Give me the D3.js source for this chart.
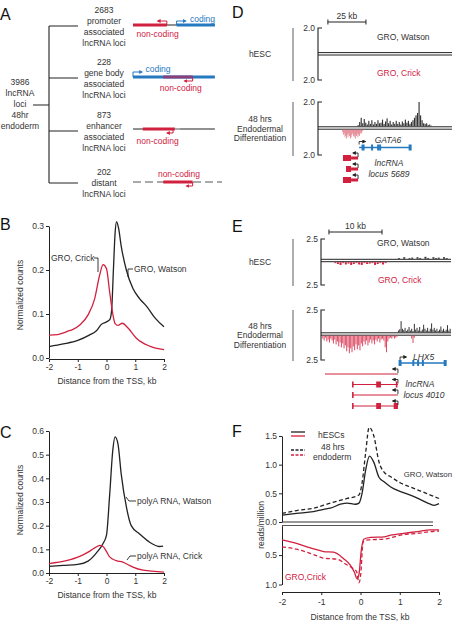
<!DOCTYPE html>
<html>
<head>
<meta charset="utf-8">
<script src="https://cdn.jsdelivr.net/npm/d3@7"></script>
<style>
  body { margin: 0; background: #fff; }
  svg text { font-family: "Liberation Sans", Arial, sans-serif; fill: #333; }
</style>
</head>
<body>
<script>
// ---------- data ----------
// Panel A
const aTotal = ["3986", "lncRNA", "loci", "48hr", "endoderm"];
const aCounts = ["2683", "228", "873", "202"];
const aTypes = [
  ["promoter", "associated", "lncRNA loci"],
  ["gene body", "associated", "lncRNA loci"],
  ["enhancer", "associated", "lncRNA loci"],
  ["distant", "lncRNA loci"]
];

// Panel B, GRO-seq around TSS [kb, normalized counts]
const bWatson = [[-2,0.026],[-1.5,0.032],[-1,0.04],[-0.6,0.052],[-0.35,0.062],[-0.17,0.077],[0,0.082],[0.12,0.088],
  [0.18,0.11],[0.24,0.2],[0.3,0.285],[0.35,0.31],[0.42,0.295],[0.51,0.255],[0.69,0.2],[0.92,0.158],[1.15,0.135],
  [1.39,0.118],[1.7,0.09],[2,0.071]];
const bCrick = [[-2,0.052],[-1.7,0.053],[-1.5,0.057],[-1.3,0.062],[-1.2,0.064],[-0.93,0.075],[-0.64,0.098],
  [-0.41,0.135],[-0.24,0.188],[-0.12,0.212],[0,0.203],[0.11,0.15],[0.22,0.1],[0.3,0.078],[0.4,0.074],[0.55,0.079],
  [0.75,0.068],[1.04,0.045],[1.5,0.027],[2,0.019]];

// Panel C, polyA RNA
const cWatson = [[-2,0.028],[-1.5,0.032],[-1,0.036],[-0.64,0.05],[-0.35,0.085],[-0.12,0.125],[0,0.16],[0.11,0.33],
  [0.22,0.52],[0.3,0.575],[0.4,0.545],[0.51,0.42],[0.69,0.28],[0.86,0.2],[1.15,0.165],[1.5,0.13],[1.85,0.112],[1.97,0.114]];
const cCrick = [[-2,0.04],[-1.4,0.052],[-0.93,0.07],[-0.64,0.088],[-0.41,0.106],[-0.23,0.117],[-0.12,0.112],[0,0.09],
  [0.11,0.068],[0.34,0.052],[0.57,0.046],[0.75,0.035],[0.92,0.025],[1.27,0.012],[2,0.004]];

// Panel D, GATA6 locus tracks (kb start, bin size, values)
const dWatson48 = { start: 26, step: 1, values: [0.1,0.35,0.7,0.25,0.6,0.3,0.15,0.45,0.2,0.5,0.15,0.35,0.2,0.5,0.25,
  0.3,0.55,0.2,0.4,0.65,0.25,0.45,0.15,0.35,0.2,0.45,0.2,0.35,0.15,0.4,0.25,0.55,0.3,0.45,0.2,0.35,0.5,0.7,0.9,1.1,
  2.0,0.9,0.5,0.25,0.2,0.25,0.1,0.15,0.05] };
const dCrick48 = { start: 16, step: 0.5, values: [0.2,0.4,0.3,0.6,0.5,0.7,0.4,0.6,0.3,0.5,0.7,0.6,0.4,0.3,0.5,0.6,
  0.4,0.7,0.5,0.3,0.6,0.4,0.5,0.3,0.2,0.3,0.1] };
const gata6 = { from: 27, to: 60.5, exons: [29.6, 35.5, 39.5, 40.8, 60.5] };
const locus5689 = [[16.4, 21.7, 26.3], [18.4, 21.7, 26.3], [16.4, 21.7, 26.3]];

// Panel E, LHX5 locus tracks
const eWatsonES = { start: 14.5, step: 0.5, values: [0.1,0,0.2,0,0.1,0.15,0,0.2,0.1,0,0.25,0.1,0,0.2,0.1,0.15,0,0.2,0.1,0] };
const eCrickES = { start: 2.5, step: 0.5, values: [0.1,0.2,0.3,0.1,0.25,0.15,0.3,0.2,0.1,0.25,0.3,0.1,0.2,0.15,0.1,0.3,0.2,0.1,0.25,0.1] };
const eWatson48 = { start: 14.5, step: 0.25, values: [0.2,0.35,1.25,0.4,0.25,0.5,0.15,0.3,0.6,0.2,0.4,0.15,0.95,0.3,
  0.5,0.2,0.6,0.15,0.3,0.85,0.4,0.2,0.5,0.15,0.4,1.0,0.3,0.5,0.2,0.4,0.15,0.3,0.65,0.2,0.4,0.15,0.3,0.8,0.2,0.4] };
const eCrick48 = { start: 0.25, step: 0.25, values: [0.3,0.5,0.2,0.6,0.4,0.7,0.3,0.5,0.8,0.4,0.9,0.6,1.1,0.7,1.2,0.8,1.3,
  1.0,1.6,1.2,1.8,1.3,1.7,1.1,1.5,0.9,1.4,1.0,1.5,0.8,1.1,0.6,0.9,0.5,1.0,0.7,0.4,0.8,0.5,0.9,0.4,0.6,0.3,0.7,0.4,0.3,
  0.5,1.2,1.7,0.6,0.3,0.2,0.3,0.1,0.3,0.2,0.1] };
const eCrick48b = { start: 17, step: 0.25, values: [0.3, 0.75, 0.2] };
const lhx5 = { from: 14.9, to: 23.4, exons: [14.9, 17.4, 18.3, 19.2, 23.4] };
// transcripts: [from, to, exon blocks [start, end]]
const locus4010 = [
  [0.75, 14.5, []],
  [6.0, 14.5, [[5.85, 6.15], [10.4, 11.3], [14.1, 14.4]]],
  [6.0, 14.5, [[5.85, 6.15]]],
  [6.0, 14.5, [[5.85, 6.15], [10.4, 11.3], [13.7, 14.5]]]
];

// Panel F, GRO-seq reads/million
const fWatsonES = [[-2,0.12],[-1.63,0.15],[-1.2,0.18],[-0.94,0.22],[-0.77,0.24],[-0.51,0.31],[-0.34,0.33],[-0.13,0.31],
  [-0.04,0.33],[0.04,0.5],[0.13,0.9],[0.23,1.15],[0.34,1.04],[0.47,0.78],[0.6,0.7],[0.77,0.61],[1.02,0.53],[1.27,0.47],
  [1.53,0.39],[1.78,0.31],[1.87,0.29],[2,0.32]];
const fWatson48 = [[-2,0.15],[-1.63,0.2],[-1.2,0.24],[-0.77,0.33],[-0.34,0.41],[-0.04,0.47],[0.04,0.68],[0.13,1.2],
  [0.22,1.65],[0.34,1.5],[0.47,1.05],[0.6,0.87],[0.77,0.79],[1.02,0.68],[1.27,0.61],[1.53,0.54],[1.78,0.47],[2,0.41]];
const fCrickES = [[-2,0.24],[-1.63,0.3],[-1.37,0.36],[-1.1,0.41],[-0.94,0.44],[-0.69,0.45],[-0.43,0.56],[-0.26,0.67],
  [-0.15,0.8],[-0.09,0.9],[-0.04,0.83],[0.02,0.42],[0.08,0.23],[0.26,0.2],[0.6,0.19],[0.77,0.16],[1.1,0.13],[1.45,0.1],
  [1.78,0.07],[2,0.07]];
const fCrick48 = [[-2,0.36],[-1.63,0.4],[-1.2,0.49],[-0.95,0.55],[-0.6,0.57],[-0.36,0.66],[-0.19,0.73],[-0.1,0.78],
  [-0.04,0.97],[0.01,0.8],[0.06,0.3],[0.1,0.25],[0.23,0.24],[0.58,0.23],[1.1,0.15],[1.45,0.13],[1.78,0.1],[2,0.09]];

const tssTicks = [-2, -1, 0, 1, 2];

// ---------- setup ----------
const red = "#d1213f", blue = "#2479bf", ink = "#222";
const FS = 8.5;

const svg = d3.select("body").append("svg")
  .attr("width", 455).attr("height", 625)
  .style("background", "#fff");

const defs = svg.append("defs");
[["k", ink], ["r", red], ["b", blue]].forEach(([id, c]) => {
  defs.append("marker").attr("id", "ah-" + id)
    .attr("viewBox", "0 0 10 10").attr("refX", 7).attr("refY", 5)
    .attr("markerWidth", 4).attr("markerHeight", 4)
    .attr("markerUnits", "userSpaceOnUse").attr("orient", "auto")
    .append("path").attr("d", "M0,0L10,5L0,10z").attr("fill", c);
});

function txt(x, y, s, opts = {}) {
  return svg.append("text").attr("x", x).attr("y", y)
    .attr("font-size", opts.size || FS)
    .attr("text-anchor", opts.anchor || "start")
    .attr("font-style", opts.italic ? "italic" : null)
    .style("fill", opts.fill || "#333")
    .text(s);
}

function styleAxis(g) {
  g.attr("font-family", null).attr("font-size", null);
  g.selectAll("text").attr("font-size", FS).style("fill", "#333");
  g.selectAll("path, line").attr("stroke", ink);
}

// panel letters
[["A", 0, 20], ["B", 0, 230], ["C", 0, 438], ["D", 232, 18], ["E", 232, 232], ["F", 232, 437]]
  .forEach(([l, x, y]) => txt(x, y, l, { size: 16, fill: "#111" }));

// ---------- Panel A ----------
const aRowY = [26, 78, 131, 183];
svg.append("path")
  .attr("d", `M33,105H49M49,${aRowY[0]}V${aRowY[3]}` + aRowY.map(y => `M49,${y}H78`).join(""))
  .attr("stroke", ink).attr("fill", "none").attr("stroke-width", 1.1);

aTotal.forEach((s, i) => txt(20, 85 + i * 11, s, { anchor: "middle" }));
aRowY.forEach((y, r) => {
  const lines = [aCounts[r]].concat(aTypes[r]);
  const y0 = y - (lines.length - 1) * 11 / 2 + 3;
  lines.forEach((s, i) => txt(104, y0 + i * 11, s, { anchor: "middle" }));
});

// schematic gene diagrams, drawn in 0-100 units
const ax = d3.scaleLinear().domain([0, 100]).range([133, 222]);
const purple = "#8a3f78";
function seg(x1, x2, y, c, w, dash) {
  svg.append("line").attr("x1", ax(x1)).attr("x2", ax(x2)).attr("y1", y).attr("y2", y)
    .attr("stroke", c).attr("stroke-width", w).attr("stroke-dasharray", dash || null);
}
function tss(x, y, dy, dx, c, id) {
  svg.append("path").attr("d", `M${ax(x)},${y}V${y + dy}H${ax(x) + dx}`)
    .attr("fill", "none").attr("stroke", c).attr("stroke-width", 1)
    .attr("marker-end", `url(#ah-${id})`);
}
// row 1: promoter
let ry = aRowY[0] - 1;
seg(0, 92, ry, ink, 1);
seg(0, 38, ry, red, 3);
seg(49, 92, ry, blue, 3);
tss(38, ry, -4, -9, red, "r");
tss(49, ry, -4, 9, blue, "b");
txt(ax(64), ry - 3, "coding", { fill: blue });
txt(ax(4), ry + 12, "non-coding", { fill: red });
// row 2: gene body
ry = aRowY[1] - 1;
seg(0, 92, ry, blue, 3);
seg(34, 67, ry, purple, 3);
tss(0, ry, -5, 9, blue, "b");
tss(67, ry, 4, -8, red, "r");
txt(ax(14), ry - 5, "coding", { fill: blue });
txt(ax(30), ry + 14, "non-coding", { fill: red });
// row 3: enhancer
ry = aRowY[2] - 2;
seg(0, 92, ry, ink, 1);
seg(11, 47, ry, red, 3);
seg(47, 53, ry, "#aaa", 2);
tss(45, ry, 4, -6, red, "r");
txt(ax(4), ry + 15, "non-coding", { fill: red });
// row 4: distant
ry = aRowY[3] - 1;
seg(0, 100, ry, "#555", 1.2, "8,4");
seg(34, 67, ry, red, 3);
tss(67, ry, 4, -6, red, "r");
txt(ax(28), ry - 5, "non-coding", { fill: red });

// ---------- Panels B and C ----------
function profile(data, xs, ys, color) {
  svg.append("path").datum(data)
    .attr("d", d3.line().x(d => xs(d[0])).y(d => ys(d[1])).curve(d3.curveMonotoneX))
    .attr("fill", "none").attr("stroke", color).attr("stroke-width", 1.3);
}
function tssAxes(xs, ys, yTicks, xAxisY) {
  svg.append("g").attr("transform", `translate(${xs.range()[0]},0)`)
    .call(d3.axisLeft(ys).tickValues(yTicks).tickFormat(d3.format(".1f")).tickSize(3).tickSizeOuter(0).tickPadding(2))
    .call(styleAxis);
  svg.append("g").attr("transform", `translate(0,${xAxisY})`)
    .call(d3.axisBottom(xs).tickValues(tssTicks).tickFormat(d => String(d)).tickSize(3).tickSizeOuter(0).tickPadding(2))
    .call(styleAxis);
}
function leader(d) {
  svg.append("path").attr("d", d).attr("fill", "none").attr("stroke", ink).attr("stroke-width", 0.9);
}

// B
const bx = d3.scaleLinear().domain([-2, 2]).range([49, 164]);
const by = d3.scaleLinear().domain([0, 0.3]).range([358, 226]);
tssAxes(bx, by, [0, 0.1, 0.2, 0.3], 359);
profile(bWatson, bx, by, ink);
profile(bCrick, bx, by, red);
txt(51, 261, "GRO, Crick");
leader("M94,258H98V272");
txt(134, 272, "GRO, Watson");
leader("M133,269H128V277");
txt(107, 384, "Distance from the TSS, kb", { anchor: "middle" });
txt(0, 0, "Normalized counts", { anchor: "middle" }).attr("transform", "translate(23,295) rotate(-90)");

// C
const cx = d3.scaleLinear().domain([-2, 2]).range([49, 164]);
const cy = d3.scaleLinear().domain([0, 0.6]).range([573, 431]);
tssAxes(cx, cy, [0, 0.1, 0.2, 0.3, 0.4, 0.5, 0.6], 573);
profile(cWatson, cx, cy, ink);
profile(cCrick, cx, cy, red);
txt(137, 504, "polyA RNA, Watson");
leader("M136,501H129L126,497");
txt(137, 559, "polyA RNA, Crick");
leader("M136,556H130L127,560");
txt(107, 598, "Distance from the TSS, kb", { anchor: "middle" });
txt(0, 0, "Normalized counts", { anchor: "middle" }).attr("transform", "translate(23,500) rotate(-90)");

// ---------- Panels D and E : genome browser tracks ----------
function bars(track, gx, ys, color) {
  const pts = track.values.map((v, i) => ({ kb: track.start + i * track.step, v }));
  const y0 = ys(0);
  const bw = Math.max(0.7, (gx(track.start + track.step) - gx(track.start)) * 0.75);
  svg.append("g").selectAll("rect").data(pts).join("rect")
    .attr("x", d => gx(d.kb))
    .attr("width", bw)
    .attr("y", d => Math.min(y0, ys(d.v)))
    .attr("height", d => Math.abs(ys(d.v) - y0))
    .attr("fill", color);
}
function trackFrame(gx, top, base, bottom, maxLabel, leftLines) {
  const x0 = gx.range()[0], x1 = gx.range()[1];
  svg.append("path").attr("d", `M${x0 + 4},${top}H${x0}V${bottom}H${x0 + 4}`)
    .attr("fill", "none").attr("stroke", ink).attr("stroke-width", 1.1);
  svg.append("line").attr("x1", x0).attr("x2", x1).attr("y1", base - 1.2).attr("y2", base - 1.2)
    .attr("stroke", ink).attr("stroke-width", 1);
  svg.append("line").attr("x1", x0).attr("x2", x1).attr("y1", base + 1.2).attr("y2", base + 1.2)
    .attr("stroke", ink).attr("stroke-width", 1);
  txt(x0 - 3, top + 3, maxLabel, { anchor: "end" });
  txt(x0 - 3, bottom + 3, maxLabel, { anchor: "end" });
  svg.append("line").attr("x1", 293).attr("x2", 293).attr("y1", top).attr("y2", bottom + 1)
    .attr("stroke", "#777").attr("stroke-width", 1.2);
  const mid = (top + bottom) / 2;
  leftLines.forEach((s, i) => txt(260, mid + 3 + (i - (leftLines.length - 1) / 2) * 9.5, s, { anchor: "middle" }));
  return {
    up: d3.scaleLinear().domain([0, 1]).range([base - 1.7, top]),
    down: d3.scaleLinear().domain([0, 1]).range([base + 1.7, bottom])
  };
}
function scaleBar(gx, a, b, y, label) {
  svg.append("path").attr("d", `M${gx(a)},${y - 2.5}V${y + 2.5}M${gx(a)},${y}H${gx(b)}M${gx(b)},${y - 2.5}V${y + 2.5}`)
    .attr("fill", "none").attr("stroke", ink).attr("stroke-width", 1);
  txt((gx(a) + gx(b)) / 2, y - 3, label, { anchor: "middle" });
}
function arrow(x, y, dy, dx) {
  svg.append("path").attr("d", `M${x},${y}V${y + dy}H${x + dx}`)
    .attr("fill", "none").attr("stroke", ink).attr("stroke-width", 0.9)
    .attr("marker-end", "url(#ah-k)");
}
function geneModel(gx, g, y) {
  svg.append("line").attr("x1", gx(g.from)).attr("x2", gx(g.to)).attr("y1", y).attr("y2", y)
    .attr("stroke", blue).attr("stroke-width", 1.3);
  svg.append("g").selectAll("rect").data(g.exons).join("rect")
    .attr("x", (d, i) => gx(d) - (i === 0 || i === g.exons.length - 1 ? 1.5 : 1))
    .attr("width", (d, i) => (i === 0 || i === g.exons.length - 1 ? 3 : 2))
    .attr("y", y - 3).attr("height", 6).attr("fill", blue);
  arrow(gx(g.from), y - 3, -3, 6);
}

// D
const dgx = d3.scaleLinear().domain([0, 88]).range([318, 452]);
scaleBar(dgx, 6.5, 31.5, 22, "25 kb");
const dES = trackFrame(dgx, 28, 53.8, 80, "2.0", ["hESC"]);
const d48 = trackFrame(dgx, 102, 128, 155, "2.0", ["48 hrs", "Endodermal", "Differentiation"]);
d48.up.domain([0, 2]); d48.down.domain([0, 2]);
bars(dWatson48, dgx, d48.up, "#333");
bars(dCrick48, dgx, d48.down, "#e0707f");
txt(377, 40, "GRO, Watson");
txt(377, 76, "GRO, Crick", { fill: red });
geneModel(dgx, gata6, 147.5);
txt(388, 143, "GATA6", { anchor: "middle", italic: true });
[158, 169, 180].forEach((y, i) => {
  const t = locus5689[i];
  svg.append("rect").attr("x", dgx(t[0])).attr("width", dgx(t[1]) - dgx(t[0]))
    .attr("y", y - 3).attr("height", 6).attr("fill", red);
  svg.append("rect").attr("x", dgx(t[1])).attr("width", dgx(t[2]) - dgx(t[1]))
    .attr("y", y - 1.5).attr("height", 3).attr("fill", red);
  arrow(dgx(t[2]), y - 1, -4, -5);
});
txt(389, 166, "lncRNA", { anchor: "middle", italic: true });
txt(389, 177, "locus 5689", { anchor: "middle", italic: true });

// E
const egx = d3.scaleLinear().domain([0, 24.5]).range([321, 451]);
scaleBar(egx, 1.5, 11.5, 232, "10 kb");
const eES = trackFrame(egx, 239, 260.5, 285, "2.5", ["hESC"]);
const e48 = trackFrame(egx, 310, 334, 360, "2.5", ["48 hrs", "Endodermal", "Differentiation"]);
[eES, e48].forEach(t => { t.up.domain([0, 2.5]); t.down.domain([0, 2.5]); });
bars(eWatsonES, egx, eES.up, "#333");
bars(eCrickES, egx, eES.down, red);
bars(eWatson48, egx, e48.up, "#333");
bars(eCrick48, egx, e48.down, "#dc4a63");
bars(eCrick48b, egx, e48.down, "#dc4a63");
txt(377, 246, "GRO, Watson");
txt(378, 283, "GRO, Crick", { fill: red });
geneModel(egx, lhx5, 363);
txt(413, 360, "LHX5", { italic: true });
[374, 384.5, 395, 406].forEach((y, i) => {
  const t = locus4010[i];
  svg.append("line").attr("x1", egx(t[0])).attr("x2", egx(t[1])).attr("y1", y).attr("y2", y)
    .attr("stroke", red).attr("stroke-width", 1.1);
  svg.append("g").selectAll("rect").data(t[2]).join("rect")
    .attr("x", d => egx(d[0])).attr("width", d => egx(d[1]) - egx(d[0]))
    .attr("y", y - 3).attr("height", 6).attr("fill", red);
  arrow(egx(t[1]), y - 1, -4, -5);
});
txt(420, 387, "lncRNA", { anchor: "middle", italic: true });
txt(424, 398, "locus 4010", { anchor: "middle", italic: true });

// ---------- Panel F ----------
const fx = d3.scaleLinear().domain([-2, 2]).range([282, 439]);
const fyU = d3.scaleLinear().domain([0, 1.5]).range([522, 436]);
const fyL = d3.scaleLinear().domain([0, 1]).range([525.7, 584.5]);
svg.append("g").attr("transform", "translate(282,0)")
  .call(d3.axisLeft(fyU).tickValues([0, 0.5, 1, 1.5]).tickFormat(d3.format(".1f")).tickSize(3).tickSizeOuter(0).tickPadding(2))
  .call(styleAxis);
svg.append("g").attr("transform", "translate(282,0)")
  .call(d3.axisLeft(fyL).tickValues([0.5, 1]).tickFormat(d3.format(".1f")).tickSize(3).tickSizeOuter(0).tickPadding(2))
  .call(styleAxis);
svg.append("g").attr("transform", "translate(0,592)")
  .call(d3.axisBottom(fx).tickValues(tssTicks).tickFormat(d => String(d)).tickSize(3).tickSizeOuter(0).tickPadding(4))
  .call(styleAxis);
svg.append("line").attr("x1", 282).attr("x2", 433).attr("y1", 522).attr("y2", 522).attr("stroke", "#333").attr("stroke-width", 1.1);
svg.append("line").attr("x1", 282).attr("x2", 433).attr("y1", 525.5).attr("y2", 525.5).attr("stroke", "#555").attr("stroke-width", 1.1);

function fLine(data, ys, color, dash) {
  svg.append("path").datum(data)
    .attr("d", d3.line().x(d => fx(d[0])).y(d => ys(d[1])).curve(d3.curveMonotoneX))
    .attr("fill", "none").attr("stroke", color).attr("stroke-width", 1.3)
    .attr("stroke-dasharray", dash || null);
}
fLine(fWatsonES, fyU, ink);
fLine(fWatson48, fyU, ink, "4,2.5");
fLine(fCrickES, fyL, red);
fLine(fCrick48, fyL, red, "4,2.5");

// legend
[[432, ink, null], [436, red, null], [450, ink, "3,1.5"], [455, red, "3,1.5"]].forEach(([y, c, dash]) => {
  svg.append("line").attr("x1", 291).attr("x2", 305).attr("y1", y).attr("y2", y)
    .attr("stroke", c).attr("stroke-width", 1.3).attr("stroke-dasharray", dash);
});
txt(318, 438, "hESCs");
txt(321, 450, "48 hrs");
txt(313, 460, "endoderm");
txt(452, 477, "GRO, Watson", { anchor: "end", size: 7.8 });
txt(285, 580, "GRO,Crick", { fill: red });
txt(360, 620, "Distance from the TSS, kb", { anchor: "middle" });
txt(0, 0, "reads/million", { anchor: "middle" }).attr("transform", "translate(264,525) rotate(-90)");
</script>
</body>
</html>
